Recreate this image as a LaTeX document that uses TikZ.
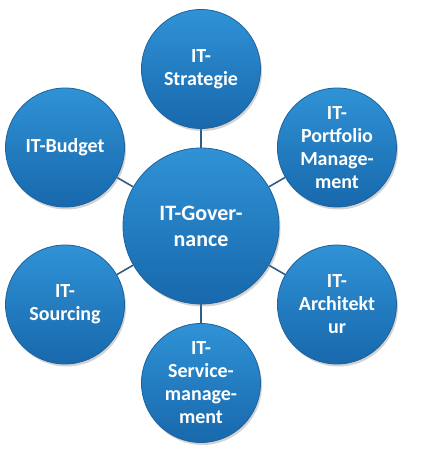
\documentclass[tikz,border=0pt]{standalone}
\usepackage{fontspec}
\setmainfont{Carlito}
\usetikzlibrary{shadows, backgrounds}

\definecolor{bubbletop}{RGB}{48,146,214}
\definecolor{bubblebot}{RGB}{24,104,172}
\definecolor{bubblerim}{RGB}{28,98,158}
\definecolor{linkcol}{RGB}{46,94,134}

\begin{document}
\begin{tikzpicture}[
        bubble/.style={circle, draw=bubblerim, line width=0.8pt, top color=bubbletop, bottom color=bubblebot, minimum size=119pt, inner sep=0pt, align=center, text=white, font=\bfseries\fontsize{20}{23}\selectfont, drop shadow={shadow xshift=1.5pt, shadow yshift=-2.5pt, opacity=0.35}},
        hub/.style={bubble, minimum size=156pt, font=\bfseries\fontsize{22}{26}\selectfont},
        link/.style={draw=linkcol, line width=1.6pt}
    ]
        \useasboundingbox (-201pt,-226pt) rectangle (224pt,226pt);

        \node[hub] (gov) at (0,0) {IT-Gover-\\nance};
        \node[bubble] (strategie) at (90:157pt) {IT-\\Strategie};
        \node[bubble] (portfolio) at (30:157pt) {IT-\\Portfolio\\Manage-\\ment};
        \node[bubble] (architektur) at (-30:157pt) {IT-\\Architekt\\ur};
        \node[bubble] (service) at (-90:157pt) {IT-\\Service-\\manage-\\ment};
        \node[bubble] (sourcing) at (-150:157pt) {IT-\\Sourcing};
        \node[bubble] (budget) at (150:157pt) {IT-Budget};

        \begin{scope}[on background layer]
            \foreach \sat in {strategie, portfolio, architektur, service, sourcing, budget}
                \draw[link] (gov) -- (\sat);
        \end{scope}
    \end{tikzpicture}
\end{document}
